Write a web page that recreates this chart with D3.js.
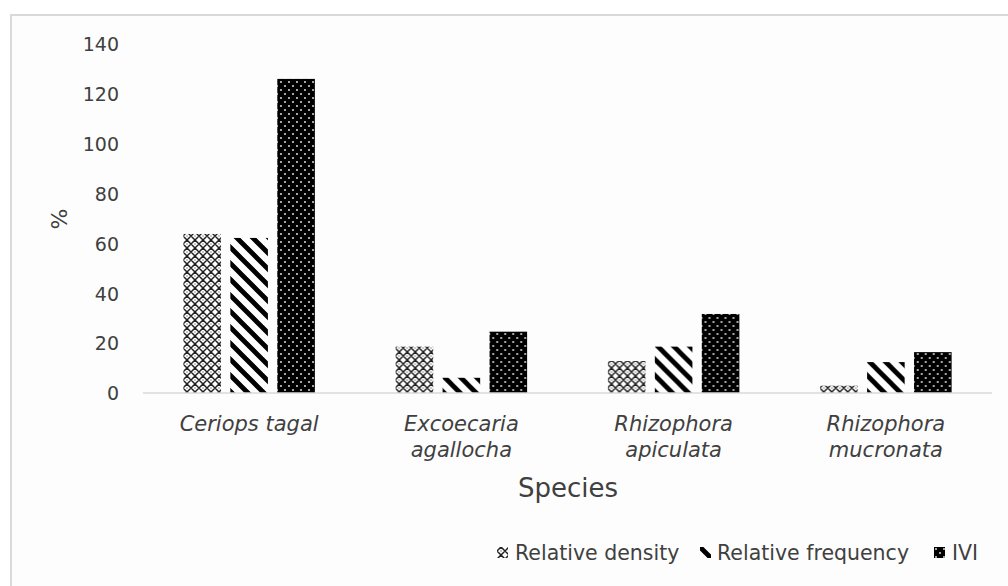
<!DOCTYPE html>
<html>
<head>
<meta charset="utf-8">
<script src="https://cdn.jsdelivr.net/npm/d3@7"></script>
<style>
  body { margin: 0; background: #fff; }
  svg text { font-family: "DejaVu Sans", Verdana, sans-serif; fill: #404040; }
</style>
</head>
<body>
<svg id="chart" width="1008" height="586"></svg>
<script>
// species on the x axis (split into the two lines drawn under each group)
var species = ["Ceriops tagal", "Excoecaria agallocha", "Rhizophora apiculata", "Rhizophora mucronata"];
var speciesLines = [["Ceriops tagal"], ["Excoecaria", "agallocha"], ["Rhizophora", "apiculata"], ["Rhizophora", "mucronata"]];

var seriesNames = ["Relative density", "Relative frequency", "IVI"];
var relDensity = [63.8, 18.6, 12.8, 2.9];
var relFrequency = [62.2, 6.1, 18.6, 12.4];
var ivi = [126, 24.6, 31.7, 16.4];

var yTicks = [0, 20, 40, 60, 80, 100, 120, 140];

var svg = d3.select("#chart");

// chart frame
svg.append("rect")
    .attr("x", 11).attr("y", 15)
    .attr("width", 1010).attr("height", 600)
    .attr("fill", "#fdfdfd")
    .attr("stroke", "#d9d9d9")
    .attr("stroke-width", 2);

// fill patterns
var defs = svg.append("defs");

var pDen = defs.append("pattern")
    .attr("id", "pat-density")
    .attr("patternUnits", "userSpaceOnUse")
    .attr("width", 8).attr("height", 8);
pDen.append("rect").attr("width", 8).attr("height", 8).attr("fill", "#fff");
pDen.append("path")
    .attr("d", "M4,0 L8,4 L4,8 L0,4 Z")
    .attr("fill", "none")
    .attr("stroke", "#222")
    .attr("stroke-width", 1.5);
pDen.append("circle").attr("cx", 4).attr("cy", 4).attr("r", 0.8).attr("fill", "#888");

var pFreq = defs.append("pattern")
    .attr("id", "pat-frequency")
    .attr("patternUnits", "userSpaceOnUse")
    .attr("width", 16).attr("height", 16);
pFreq.append("rect").attr("width", 16).attr("height", 16).attr("fill", "#fff");
pFreq.append("path")
    .attr("d", "M-4,-4 L20,20 M-4,12 L4,20 M12,-4 L20,4")
    .attr("stroke", "#000")
    .attr("stroke-width", 4.8);

var pIvi = defs.append("pattern")
    .attr("id", "pat-ivi")
    .attr("patternUnits", "userSpaceOnUse")
    .attr("width", 8).attr("height", 8);
pIvi.append("rect").attr("width", 8).attr("height", 8).attr("fill", "#000");
pIvi.append("circle").attr("cx", 2).attr("cy", 2).attr("r", 1.1).attr("fill", "#ccc");
pIvi.append("circle").attr("cx", 6).attr("cy", 6).attr("r", 1.1).attr("fill", "#ccc");

var fills = ["url(#pat-density)", "url(#pat-frequency)", "url(#pat-ivi)"];

// scales
var x0 = d3.scaleBand()
    .domain(species)
    .range([143, 992]);

var x1 = d3.scaleBand()
    .domain(seriesNames)
    .range([0, x0.bandwidth()])
    .paddingInner(0.2)
    .paddingOuter(0.86);

var y = d3.scaleLinear()
    .domain([0, 140])
    .range([393, 44]);

// y axis labels only
var yAxis = svg.append("g")
    .attr("transform", "translate(133,0)")
    .call(d3.axisLeft(y).tickValues(yTicks).tickSize(0).tickPadding(14));
yAxis.select(".domain").remove();
yAxis.selectAll("text")
    .style("font-size", "19px")
    .attr("dy", "0.36em")
    .attr("fill", "#404040");

// bars
var table = species.map(function (s, i) {
    return { species: s, values: [relDensity[i], relFrequency[i], ivi[i]] };
});

var groups = svg.selectAll(".group")
    .data(table)
    .enter().append("g")
    .attr("class", "group")
    .attr("transform", function (d) { return "translate(" + x0(d.species) + ",0)"; });

groups.selectAll("rect")
    .data(function (d) {
        return d.values.map(function (v, k) { return { name: seriesNames[k], value: v, k: k }; });
    })
    .enter().append("rect")
    .attr("x", function (d) { return x1(d.name); })
    .attr("width", x1.bandwidth())
    .attr("y", function (d) { return y(d.value); })
    .attr("height", function (d) { return y(0) - y(d.value); })
    .attr("fill", function (d) { return fills[d.k]; });

// x axis line
svg.append("line")
    .attr("x1", x0.range()[0]).attr("x2", x0.range()[1])
    .attr("y1", y(0)).attr("y2", y(0))
    .attr("stroke", "#d9d9d9")
    .attr("stroke-width", 1.5);

// category labels
svg.selectAll(".cat")
    .data(speciesLines)
    .enter().append("text")
    .attr("class", "cat")
    .attr("text-anchor", "middle")
    .style("font-size", "21px")
    .style("font-style", "italic")
    .each(function (lines, i) {
        var t = d3.select(this);
        lines.forEach(function (l, j) {
            t.append("tspan")
                .attr("x", x0(species[i]) + x0.bandwidth() / 2)
                .attr("y", 431 + j * 26)
                .text(l);
        });
    });

// axis titles
svg.append("text")
    .attr("x", 568).attr("y", 497)
    .attr("text-anchor", "middle")
    .style("font-size", "26px")
    .text("Species");

svg.append("text")
    .attr("transform", "translate(67,219) rotate(-90)")
    .attr("text-anchor", "middle")
    .style("font-size", "22px")
    .text("%");

// legend
var legendX = [497, 700, 934];
var legend = svg.selectAll(".legend")
    .data(seriesNames)
    .enter().append("g")
    .attr("class", "legend")
    .attr("transform", function (d, i) { return "translate(" + legendX[i] + ",547)"; });

legend.append("rect")
    .attr("width", 11).attr("height", 11)
    .attr("fill", function (d, i) { return fills[i]; });

legend.append("text")
    .attr("x", function (d, i) { return i === 1 ? 17 : 18; })
    .attr("y", 13)
    .style("font-size", "20.5px")
    .text(function (d) { return d; });
</script>
</body>
</html>
